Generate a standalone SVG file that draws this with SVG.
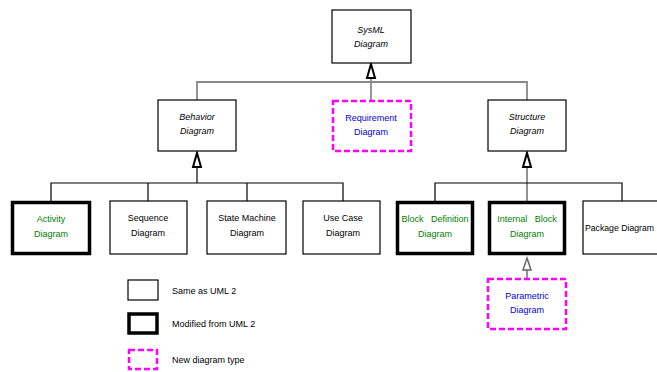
<svg xmlns="http://www.w3.org/2000/svg" width="657" height="372" viewBox="0 0 657 372">
<style>
.box{fill:#fff;stroke:#000;stroke-width:1.2}
.thick{fill:#fff;stroke:#000;stroke-width:3.5}
.new{fill:#fff;stroke:#f0f;stroke-width:2.5;stroke-dasharray:6,3}
.t{font-family:"Liberation Sans",Arial,sans-serif;font-size:9px;text-anchor:middle;fill:#000}
.it{font-style:italic}
.g{fill:#008000}
.b{fill:#0000e0}
.lg{font-family:"Liberation Sans",Arial,sans-serif;font-size:9px;fill:#000}
.ln{fill:none;stroke:#000;stroke-width:1.2}
.gl{fill:none;stroke:#888;stroke-width:1.8}
.tri{fill:#fff;stroke:#000;stroke-width:2}
</style>
<rect width="657" height="372" fill="#fff"/>
<g id="connectors">
  <polyline class="gl" points="197,100 197,82 527,82 527,100"/>
  <line class="gl" x1="371" y1="78" x2="371" y2="100"/>
  <polygon class="tri" points="371,64 375,78 367,78"/>
  <line class="ln" x1="197" y1="167" x2="197" y2="183"/>
  <polyline class="ln" points="51,201 51,183 343,183 343,201"/>
  <line class="ln" x1="148" y1="183" x2="148" y2="201"/>
  <line class="ln" x1="247" y1="183" x2="247" y2="201"/>
  <polygon class="tri" points="197,153 201,167 193,167"/>
  <line class="gl" x1="527" y1="167" x2="527" y2="201"/>
  <polyline class="ln" points="435,201 435,183 622,183 622,201"/>
  <polygon class="tri" points="527,153 531,167 523,167"/>
  <line class="gl" x1="527" y1="270" x2="527" y2="279"/>
  <polygon fill="#fff" stroke="#666" stroke-width="1.5" points="527,258 531,270 523,270"/>
</g>
<g id="sysml">
  <rect class="box" x="332" y="10" width="79" height="53"/>
  <text class="t it" x="371" y="33">SysML</text>
  <text class="t it" x="371" y="47">Diagram</text>
</g>
<g id="behavior">
  <rect class="box" x="158" y="100" width="78" height="51"/>
  <text class="t it" x="197" y="120">Behavior</text>
  <text class="t it" x="197" y="134">Diagram</text>
</g>
<g id="requirement">
  <rect class="new" x="333" y="101" width="78" height="50"/>
  <text class="t b" x="371" y="121">Requirement</text>
  <text class="t b" x="371" y="135">Diagram</text>
</g>
<g id="structure">
  <rect class="box" x="488" y="100" width="78" height="51"/>
  <text class="t it" x="527" y="120">Structure</text>
  <text class="t it" x="527" y="134">Diagram</text>
</g>
<g id="activity">
  <rect class="thick" x="12.5" y="202.5" width="77" height="51"/>
  <text class="t g" x="51" y="222">Activity</text>
  <text class="t g" x="51" y="237">Diagram</text>
</g>
<g id="sequence">
  <rect class="box" x="110" y="201" width="77" height="53"/>
  <text class="t" x="148" y="221">Sequence</text>
  <text class="t" x="148" y="236">Diagram</text>
</g>
<g id="statemachine">
  <rect class="box" x="207" y="201" width="79" height="53"/>
  <text class="t" x="247" y="221">State  Machine</text>
  <text class="t" x="247" y="236">Diagram</text>
</g>
<g id="usecase">
  <rect class="box" x="303" y="201" width="77" height="53"/>
  <text class="t" x="343" y="221">Use Case</text>
  <text class="t" x="343" y="236">Diagram</text>
</g>
<g id="blockdefinition">
  <rect class="thick" x="397.5" y="202.5" width="75" height="51"/>
  <text class="t g" x="435" y="222" word-spacing="5">Block Definition</text>
  <text class="t g" x="435" y="237">Diagram</text>
</g>
<g id="internalblock">
  <rect class="thick" x="489.5" y="202.5" width="75" height="51"/>
  <text class="t g" x="527" y="222" word-spacing="5">Internal Block</text>
  <text class="t g" x="527" y="237">Diagram</text>
</g>
<g id="package">
  <rect class="box" x="583" y="201" width="80" height="53"/>
  <text class="lg" x="585" y="231" font-size="8.5" textLength="69" lengthAdjust="spacingAndGlyphs">Package Diagram</text>
</g>
<g id="parametric">
  <rect class="new" x="488" y="279" width="78" height="50"/>
  <text class="t b" x="527" y="299">Parametric</text>
  <text class="t b" x="527" y="313">Diagram</text>
</g>
<g id="legend">
  <rect class="box" x="128" y="280" width="30" height="20"/>
  <text class="lg" x="172" y="294">Same as UML 2</text>
  <rect class="thick" x="129" y="314" width="28" height="19"/>
  <text class="lg" x="172" y="327">Modified from UML 2</text>
  <rect class="new" x="129" y="350" width="28" height="19"/>
  <text class="lg" x="172" y="363">New diagram type</text>
</g>
</svg>
